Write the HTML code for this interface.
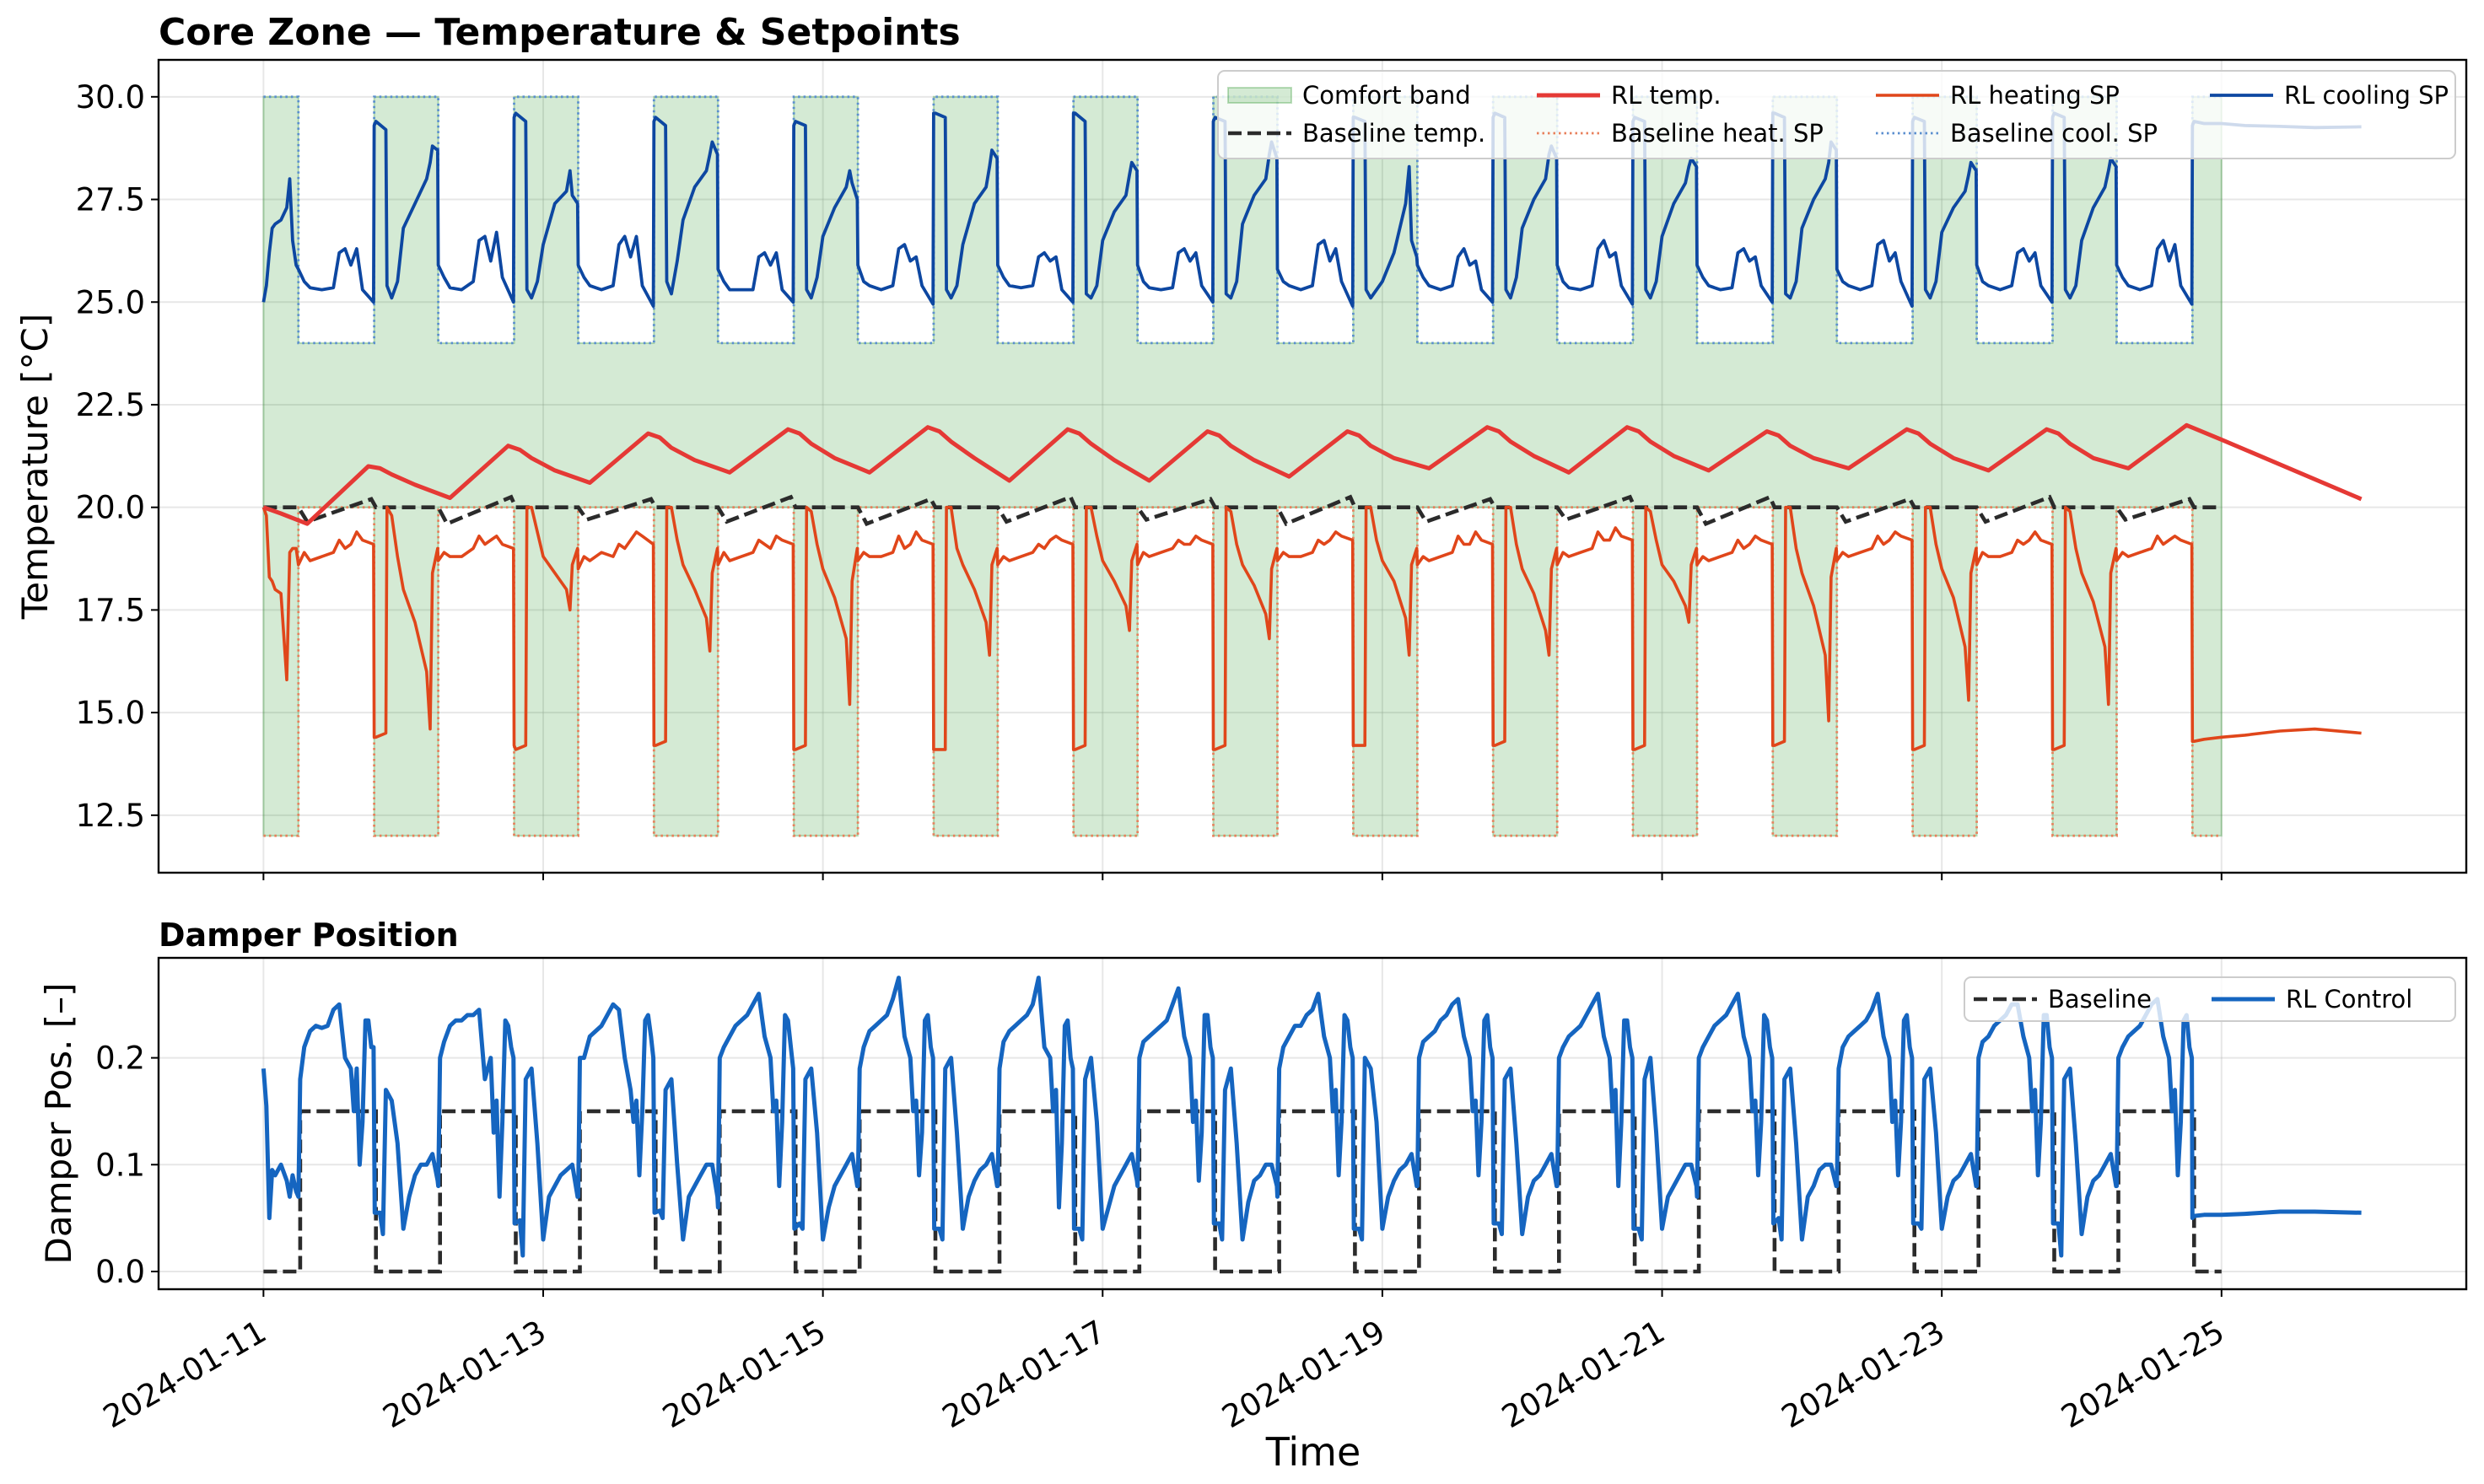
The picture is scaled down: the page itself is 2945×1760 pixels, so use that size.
<!DOCTYPE html>
<html><head><meta charset="utf-8"><style>
html,body{margin:0;padding:0;background:#fff;}
svg{display:block;font-family:"DejaVu Sans","Liberation Sans",sans-serif;}
</style></head>
<body>
<svg id="chart" width="2945" height="1760" viewBox="0 0 2945 1760" xmlns="http://www.w3.org/2000/svg">
<defs>
<clipPath id="clipTop"><rect x="188" y="71" width="2736" height="964"/></clipPath>
<clipPath id="clipBot"><rect x="188" y="1136" width="2736" height="393"/></clipPath>
</defs>
<rect x="0" y="0" width="2945" height="1760" fill="#fff"/>
<g id="gTop"></g>
<g id="gBot"></g>
</svg>
<script>
// ---------- data ----------
const xTickLabels = ["2024-01-11","2024-01-13","2024-01-15","2024-01-17","2024-01-19","2024-01-21","2024-01-23","2024-01-25"];
const xTickDays = [0,2,4,6,8,10,12,14];
const tempTicks = [12.5,15.0,17.5,20.0,22.5,25.0,27.5,30.0];
const damperTicks = [0.0,0.1,0.2];

const nDays = 14;
const occStartHour = 6, occEndHour = 19;
const occHeatSP = 20, occCoolSP = 24, unoccHeatSP = 12, unoccCoolSP = 30;
const baseDamperOcc = 0.15, baseDamperUnocc = 0.0, baseDamperLag = 0.3;

// RL setpoint cycles: offsets (hours after 06:00)
const spOffsets = [0,1,2,4,6,7,8,9,10,11,12.9,13,13.3,15,15.2,16,17,18,20,22,22.6,23,23.9];
const headHours = [0,0.5,1,1.5,2,3,4,4.5,5,5.6];
const headCool = [25.0,25.4,26.2,26.8,26.9,27.0,27.3,28.0,26.5,25.9];
const headHeat = [20.0,19.8,18.3,18.2,18.0,17.9,15.8,18.9,19.0,19.0];
const headDamp = [0.19,0.155,0.05,0.095,0.09,0.1,0.085,0.07,0.09,0.075];
const tailHours = [331,331.3,333,336,340,346,352,360];
const tailCool = [29.3,29.4,29.35,29.35,29.3,29.28,29.25,29.27];
const tailHeat = [14.3,14.3,14.35,14.4,14.45,14.55,14.6,14.5];
const tailDamp = [0.05,0.052,0.053,0.053,0.054,0.056,0.056,0.055];

const coolCycles = [
[25.8,25.5,25.35,25.3,25.35,26.2,26.3,25.9,26.3,25.3,25.0,29.3,29.4,29.2,25.4,25.1,25.5,26.8,27.4,28.0,28.4,28.8,28.7],
[25.9,25.6,25.35,25.3,25.5,26.5,26.6,26.0,26.7,25.6,25.0,29.5,29.6,29.4,25.3,25.1,25.5,26.4,27.4,27.7,28.2,27.6,27.4],
[25.9,25.6,25.4,25.3,25.4,26.4,26.6,26.1,26.6,25.4,24.9,29.4,29.5,29.3,25.5,25.2,26.0,27.0,27.8,28.2,28.6,28.9,28.6],
[25.8,25.5,25.3,25.3,25.3,26.1,26.2,25.9,26.2,25.3,25.0,29.3,29.4,29.3,25.3,25.1,25.6,26.6,27.3,27.8,28.2,27.9,27.5],
[25.9,25.5,25.4,25.3,25.4,26.3,26.4,26.0,26.1,25.4,24.95,29.6,29.6,29.5,25.3,25.1,25.4,26.4,27.4,27.8,28.3,28.7,28.5],
[25.9,25.6,25.4,25.35,25.4,26.1,26.2,26.0,26.1,25.3,25.0,29.6,29.6,29.4,25.2,25.1,25.4,26.5,27.2,27.6,28.1,28.4,28.2],
[25.9,25.5,25.35,25.3,25.35,26.2,26.3,26.0,26.2,25.4,25.0,29.4,29.5,29.4,25.2,25.1,25.5,26.9,27.6,28.0,28.6,28.9,28.5],
[25.8,25.5,25.4,25.3,25.4,26.4,26.5,26.0,26.3,25.5,24.9,29.5,29.5,29.4,25.3,25.1,25.3,25.5,26.2,27.4,28.3,26.5,26.1],
[25.9,25.6,25.4,25.3,25.4,26.1,26.3,25.9,26.0,25.3,25.0,29.5,29.6,29.5,25.3,25.1,25.6,26.8,27.5,28.0,28.6,28.8,28.5],
[25.9,25.5,25.35,25.3,25.4,26.3,26.5,26.1,26.2,25.4,24.95,29.4,29.5,29.4,25.3,25.1,25.5,26.6,27.4,27.9,28.3,28.5,28.3],
[25.9,25.6,25.4,25.3,25.35,26.2,26.3,26.0,26.1,25.4,25.0,29.6,29.6,29.5,25.2,25.1,25.5,26.8,27.5,28.0,28.4,28.9,28.7],
[25.8,25.5,25.4,25.3,25.4,26.4,26.5,26.0,26.2,25.5,24.9,29.4,29.5,29.4,25.3,25.1,25.5,26.7,27.3,27.7,28.1,28.4,28.2],
[25.9,25.5,25.4,25.3,25.4,26.2,26.3,26.0,26.2,25.4,25.0,29.5,29.6,29.5,25.3,25.1,25.4,26.5,27.3,27.8,28.2,28.5,28.3],
[25.9,25.6,25.4,25.3,25.4,26.3,26.5,26.0,26.4,25.4,24.95]
];
const heatCycles = [
[18.6,18.9,18.7,18.8,18.9,19.2,19.0,19.1,19.4,19.2,19.1,14.4,14.4,14.5,20.0,19.8,18.8,18.0,17.2,16.0,14.6,18.4,19.0],
[18.7,18.9,18.8,18.8,19.0,19.3,19.1,19.2,19.3,19.1,19.0,14.2,14.1,14.2,20.0,20.0,19.4,18.8,18.4,18.0,17.5,18.6,19.0],
[18.5,18.8,18.7,18.9,18.8,19.1,19.0,19.2,19.4,19.3,19.1,14.2,14.2,14.3,20.0,20.0,19.2,18.6,18.0,17.3,16.5,18.4,19.0],
[18.6,18.9,18.7,18.8,18.9,19.2,19.1,19.0,19.3,19.2,19.1,14.1,14.1,14.2,20.0,19.9,19.1,18.5,17.8,16.8,15.2,18.2,19.0],
[18.7,18.9,18.8,18.8,18.9,19.3,19.0,19.1,19.4,19.2,19.1,14.1,14.1,14.1,20.0,20.0,19.0,18.6,18.0,17.2,16.4,18.6,19.0],
[18.6,18.8,18.7,18.8,18.9,19.1,19.0,19.2,19.3,19.2,19.1,14.1,14.1,14.2,20.0,20.0,19.3,18.7,18.2,17.6,17.0,18.7,19.1],
[18.6,18.9,18.8,18.9,19.0,19.2,19.1,19.1,19.3,19.2,19.1,14.1,14.1,14.2,20.0,19.9,19.1,18.6,18.1,17.4,16.8,18.5,19.0],
[18.7,18.9,18.8,18.8,18.9,19.2,19.1,19.2,19.4,19.3,19.2,14.2,14.2,14.2,20.0,20.0,19.2,18.7,18.2,17.3,16.4,18.6,19.0],
[18.6,18.8,18.7,18.8,18.9,19.3,19.1,19.1,19.4,19.2,19.1,14.2,14.2,14.3,20.0,20.0,19.1,18.5,17.9,17.0,16.4,18.5,19.0],
[18.6,18.9,18.8,18.9,19.0,19.4,19.2,19.2,19.5,19.3,19.2,14.1,14.1,14.2,20.0,19.9,19.2,18.6,18.2,17.6,17.2,18.6,19.0],
[18.6,18.8,18.7,18.8,18.9,19.2,19.0,19.1,19.3,19.2,19.1,14.2,14.2,14.3,20.0,20.0,19.0,18.4,17.6,16.4,14.8,18.3,19.0],
[18.7,18.9,18.8,18.9,19.0,19.3,19.1,19.2,19.4,19.3,19.2,14.1,14.1,14.2,20.0,20.0,19.1,18.5,17.8,16.6,15.3,18.4,19.0],
[18.6,18.9,18.8,18.8,18.9,19.2,19.1,19.2,19.4,19.2,19.1,14.1,14.1,14.2,20.0,19.9,19.0,18.4,17.7,16.6,15.2,18.4,19.0],
[18.7,18.9,18.8,18.9,19.0,19.3,19.1,19.2,19.3,19.2,19.1]
];

// RL damper cycles: offsets (hours after 06:00)
const dmOffsets = [0,0.3,1,2,3,4,5,6,7,8,9,9.5,10,10.5,11,11.5,12,12.5,12.9,13.1,14,14.5,15,16,17,18,19,20,21,22,23,23.9];
const damperCycles = [
[0.07,0.18,0.21,0.225,0.23,0.228,0.23,0.245,0.25,0.2,0.19,0.15,0.19,0.10,0.14,0.235,0.235,0.21,0.21,0.055,0.055,0.035,0.17,0.16,0.12,0.04,0.07,0.09,0.1,0.1,0.11,0.085],
[0.08,0.2,0.215,0.23,0.235,0.235,0.24,0.24,0.245,0.18,0.2,0.13,0.16,0.07,0.14,0.235,0.23,0.21,0.2,0.045,0.048,0.015,0.18,0.19,0.12,0.03,0.07,0.08,0.09,0.095,0.1,0.07],
[0.07,0.2,0.2,0.22,0.225,0.23,0.24,0.25,0.245,0.2,0.17,0.14,0.16,0.09,0.15,0.235,0.24,0.22,0.2,0.055,0.057,0.05,0.17,0.18,0.1,0.03,0.07,0.08,0.09,0.1,0.1,0.07],
[0.06,0.2,0.21,0.22,0.23,0.235,0.24,0.25,0.26,0.22,0.2,0.15,0.16,0.08,0.14,0.24,0.235,0.21,0.19,0.04,0.045,0.04,0.18,0.19,0.13,0.03,0.06,0.08,0.09,0.1,0.11,0.08],
[0.08,0.19,0.21,0.225,0.23,0.235,0.24,0.255,0.275,0.22,0.2,0.15,0.16,0.09,0.13,0.235,0.24,0.21,0.2,0.04,0.04,0.03,0.19,0.2,0.13,0.04,0.07,0.085,0.095,0.1,0.11,0.08],
[0.08,0.19,0.215,0.225,0.23,0.235,0.24,0.25,0.275,0.21,0.2,0.15,0.17,0.06,0.12,0.23,0.235,0.2,0.19,0.04,0.04,0.03,0.18,0.2,0.14,0.04,0.06,0.08,0.09,0.1,0.11,0.085],
[0.08,0.2,0.215,0.22,0.225,0.23,0.235,0.25,0.265,0.22,0.2,0.14,0.16,0.085,0.13,0.24,0.24,0.21,0.2,0.045,0.045,0.03,0.17,0.19,0.12,0.03,0.065,0.085,0.09,0.1,0.1,0.08],
[0.07,0.19,0.21,0.22,0.23,0.23,0.24,0.245,0.26,0.22,0.2,0.15,0.17,0.09,0.14,0.24,0.235,0.21,0.2,0.04,0.04,0.03,0.2,0.19,0.14,0.04,0.07,0.085,0.095,0.1,0.11,0.08],
[0.08,0.2,0.215,0.22,0.225,0.235,0.24,0.25,0.255,0.22,0.2,0.15,0.16,0.09,0.14,0.235,0.24,0.21,0.2,0.045,0.045,0.035,0.18,0.19,0.12,0.035,0.07,0.085,0.09,0.1,0.11,0.08],
[0.08,0.2,0.21,0.22,0.225,0.23,0.24,0.25,0.26,0.22,0.2,0.15,0.17,0.08,0.14,0.235,0.235,0.21,0.2,0.04,0.04,0.03,0.18,0.2,0.13,0.04,0.07,0.08,0.09,0.1,0.1,0.08],
[0.07,0.2,0.21,0.22,0.23,0.235,0.24,0.25,0.26,0.22,0.2,0.15,0.16,0.09,0.14,0.24,0.235,0.21,0.2,0.045,0.05,0.03,0.18,0.19,0.12,0.03,0.07,0.08,0.095,0.1,0.1,0.08],
[0.08,0.19,0.21,0.22,0.225,0.23,0.235,0.245,0.26,0.22,0.2,0.14,0.16,0.09,0.14,0.235,0.24,0.21,0.2,0.045,0.045,0.04,0.18,0.19,0.13,0.04,0.07,0.085,0.09,0.1,0.11,0.08],
[0.08,0.2,0.215,0.22,0.23,0.235,0.24,0.25,0.25,0.22,0.2,0.15,0.17,0.09,0.14,0.24,0.24,0.21,0.2,0.045,0.045,0.015,0.18,0.19,0.12,0.035,0.07,0.085,0.09,0.1,0.11,0.08],
[0.08,0.2,0.21,0.22,0.225,0.23,0.24,0.25,0.255,0.22,0.2,0.15,0.17,0.09,0.14,0.235,0.24,0.21,0.2]
];

// RL zone temperature (hour, value)
const tempHours = [0,3,7.5,12,18,20,22,26,32,42,44,46,50,56,66,68,70,74,80,90,92,94,98,104,114,116,118,122,128,138,140,142,146,152,162,164,166,170,176,186,188,190,194,200,210,212,214,218,224,234,236,238,242,248,258,260,262,266,272,282,284,286,290,296,306,308,310,314,320,330,336,360];
const tempVals = [20.0,19.85,19.6,20.2,21.0,20.95,20.8,20.55,20.23,21.5,21.4,21.2,20.9,20.6,21.8,21.7,21.45,21.15,20.85,21.9,21.8,21.55,21.2,20.85,21.95,21.85,21.6,21.2,20.65,21.9,21.8,21.55,21.15,20.65,21.85,21.75,21.5,21.15,20.75,21.85,21.75,21.5,21.2,20.95,21.95,21.85,21.6,21.25,20.85,21.95,21.85,21.6,21.25,20.9,21.85,21.75,21.5,21.2,20.95,21.9,21.8,21.55,21.2,20.9,21.9,21.8,21.55,21.2,20.95,22.0,21.65,20.2];

// Baseline temperature: per-day dip (07:30) and peak (18:30)
const baseTempDip = [19.65,19.6,19.7,19.65,19.6,19.65,19.7,19.6,19.65,19.7,19.6,19.65,19.65,19.7];
const baseTempPeak = [20.2,20.25,20.2,20.25,20.2,20.25,20.2,20.25,20.2,20.25,20.25,20.2,20.25,20.2];
const baseTempRest = 20.0;

// ---------- axes ----------
const AX = {l:188, r:2924};
const TOP = {t:71, b:1035, min:11.1, max:30.9};
const BOT = {t:1136, b:1529, min:-0.0166, max:0.2936};
const XMIN = -0.75, XMAX = 15.75;
function xs(h){ return AX.l + (h/24 - XMIN)/(XMAX - XMIN)*(AX.r - AX.l); }
function yT(v){ return TOP.b - (v - TOP.min)/(TOP.max - TOP.min)*(TOP.b - TOP.t); }
function yD(v){ return BOT.b - (v - BOT.min)/(BOT.max - BOT.min)*(BOT.b - BOT.t); }

const NS = "http://www.w3.org/2000/svg";
function mk(tag, attrs, parent){ const e = document.createElementNS(NS, tag); for (const k in attrs) e.setAttribute(k, attrs[k]); parent.appendChild(e); return e; }
function pathD(pts, yf){ return pts.map((p,i)=>(i?"L":"M")+xs(p[0]).toFixed(1)+","+yf(p[1]).toFixed(1)).join(""); }

function cycleSeries(hh, hv, cycles, offsets, th, tv){
  const pts = [];
  hh.forEach((h,i)=>pts.push([h, hv[i]]));
  cycles.forEach((c,ci)=>{ c.forEach((v,i)=>pts.push([ci*24+occStartHour+offsets[i], v])); });
  th.forEach((h,i)=>pts.push([h, tv[i]]));
  return pts;
}
function stepSeries(occV, unoccV, lag){
  const pts = [[0, unoccV]];
  for (let d=0; d<nDays; d++){
    const s = d*24+occStartHour+lag, e = d*24+occEndHour+lag;
    pts.push([s, unoccV],[s, occV],[e, occV],[e, unoccV]);
  }
  pts.push([nDays*24, unoccV]);
  return pts;
}

const gTop = document.getElementById('gTop');
const gBot = document.getElementById('gBot');
const TICKFS = 37;

function grid(g, yTicks, yf, top, bot){
  xTickDays.forEach(d=>{
    const l = mk('line',{x1:xs(d*24),x2:xs(d*24),y1:top,y2:bot,stroke:'#b0b0b0','stroke-opacity':0.3,'stroke-width':2},g);
    
    
  });
  yTicks.forEach(v=>{
    const l = mk('line',{x1:AX.l,x2:AX.r,y1:yf(v),y2:yf(v),stroke:'#b0b0b0','stroke-opacity':0.3,'stroke-width':2},g);
    
    
  });
}
function axesFrame(g, top, bot, yTicks, yf, fmt, showXLabels){
  mk('rect',{x:AX.l,y:top,width:AX.r-AX.l,height:bot-top,fill:'none',stroke:'#000','stroke-width':2.4},g);
  yTicks.forEach(v=>{
    mk('line',{x1:AX.l-9,x2:AX.l,y1:yf(v),y2:yf(v),stroke:'#000','stroke-width':2},g);
    const t = mk('text',{x:AX.l-16,y:yf(v)+13,'text-anchor':'end','font-size':TICKFS,fill:'#000'},g);
    t.textContent = fmt(v);
    
    
  });
  xTickDays.forEach((d,i)=>{
    mk('line',{x1:xs(d*24),x2:xs(d*24),y1:bot,y2:bot+9,stroke:'#000','stroke-width':2},g);
    if (showXLabels){
      const t = mk('text',{transform:`translate(${xs(d*24)+6},${bot+58}) rotate(-30)`,'text-anchor':'end','font-size':TICKFS,fill:'#000'},g);
      t.textContent = xTickLabels[i];
      
      
    }
  });
}

// ---------- top panel ----------
grid(gTop, tempTicks, yT, TOP.t, TOP.b);
const plotT = mk('g',{'clip-path':'url(#clipTop)'},gTop);



const heatStep = stepSeries(occHeatSP, unoccHeatSP, 0);
const coolStep = stepSeries(occCoolSP, unoccCoolSP, 0);
const bandD = pathD(coolStep, yT) + pathD(heatStep.slice().reverse(), yT).replace(/^M/,'L') + 'Z';
const band = mk('path',{d:bandD,fill:'rgb(0,128,0)','fill-opacity':0.17,stroke:'rgb(0,128,0)','stroke-opacity':0.25,'stroke-width':2},plotT);



const bHeat = mk('path',{d:pathD(heatStep,yT),fill:'none',stroke:'#e8805c','stroke-width':2.8,'stroke-dasharray':'2.5,4'},plotT);


const bCool = mk('path',{d:pathD(coolStep,yT),fill:'none',stroke:'#5b8fcf','stroke-width':2.8,'stroke-dasharray':'2.5,4'},plotT);



const btPts = [[0, baseTempRest]];
for (let d=0; d<nDays; d++){
  btPts.push([d*24+6, baseTempRest],[d*24+7.5, baseTempDip[d]],[d*24+18.5, baseTempPeak[d]],[d*24+19.3, baseTempRest]);
}
btPts.push([nDays*24, baseTempRest]);
const bTemp = mk('path',{d:pathD(btPts,yT),fill:'none',stroke:'#2b2b2b','stroke-width':4.6,'stroke-dasharray':'16,7'},plotT);



const heatPts = cycleSeries(headHours, headHeat, heatCycles, spOffsets, tailHours, tailHeat);
const rlHeat = mk('path',{d:pathD(heatPts,yT),fill:'none',stroke:'#e0461a','stroke-width':3.6,'stroke-linejoin':'round'},plotT);



const coolPts = cycleSeries(headHours, headCool, coolCycles, spOffsets, tailHours, tailCool);
const rlCool = mk('path',{d:pathD(coolPts,yT),fill:'none',stroke:'#0d47a1','stroke-width':3.8,'stroke-linejoin':'round'},plotT);



const tPts = tempHours.map((h,i)=>[h, tempVals[i]]);
const rlTemp = mk('path',{d:pathD(tPts,yT),fill:'none',stroke:'#e53935','stroke-width':5,'stroke-linejoin':'round'},plotT);



axesFrame(gTop, TOP.t, TOP.b, tempTicks, yT, v=>v.toFixed(1), false);

const title = mk('text',{x:188,y:53,'font-size':44,'font-weight':'bold',fill:'#000'},gTop);
title.textContent = 'Core Zone — Temperature & Setpoints';


const yl = mk('text',{transform:`translate(56,${(TOP.t+TOP.b)/2}) rotate(-90)`,'text-anchor':'middle','font-size':42,fill:'#000'},gTop);
yl.textContent = 'Temperature [°C]';



// top legend
const lgT = mk('g',{},gTop);


mk('rect',{x:1444,y:84,width:1467,height:104,rx:8,fill:'#fff','fill-opacity':0.8,stroke:'#cccccc','stroke-width':2},lgT);
function legLine(g, x, y, attrs, label, name){
  const e = mk('g',{},g);
  
  
  mk('line',Object.assign({x1:x,x2:x+75,y1:y,y2:y,fill:'none'},attrs),e);
  const t = mk('text',{x:x+88,y:y+10,'font-size':29,fill:'#000'},e);
  t.textContent = label;
}
{
  const e = mk('g',{},lgT);
  
  
  mk('rect',{x:1456,y:104,width:75,height:18,fill:'rgb(0,128,0)','fill-opacity':0.17,stroke:'rgb(0,128,0)','stroke-opacity':0.25,'stroke-width':2},e);
  const t = mk('text',{x:1544,y:123,'font-size':29,fill:'#000'},e);
  t.textContent = 'Comfort band';
}
legLine(lgT,1456,158,{stroke:'#2b2b2b','stroke-width':4.6,'stroke-dasharray':'16,7'},'Baseline temp.','legend-baseline-temp');
legLine(lgT,1822,113,{stroke:'#e53935','stroke-width':5},'RL temp.','legend-rl-temp');
legLine(lgT,1822,158,{stroke:'#e8805c','stroke-width':2.8,'stroke-dasharray':'2.5,4'},'Baseline heat. SP','legend-baseline-heat-sp');
legLine(lgT,2224,113,{stroke:'#e0461a','stroke-width':3.6},'RL heating SP','legend-rl-heating-sp');
legLine(lgT,2224,158,{stroke:'#5b8fcf','stroke-width':2.8,'stroke-dasharray':'2.5,4'},'Baseline cool. SP','legend-baseline-cool-sp');
legLine(lgT,2620,113,{stroke:'#0d47a1','stroke-width':3.8},'RL cooling SP','legend-rl-cooling-sp');

// ---------- bottom panel ----------
grid(gBot, damperTicks, yD, BOT.t, BOT.b);
const plotB = mk('g',{'clip-path':'url(#clipBot)'},gBot);



const bdPts = stepSeries(baseDamperOcc, baseDamperUnocc, baseDamperLag);
const bDamp = mk('path',{d:pathD(bdPts,yD),fill:'none',stroke:'#2b2b2b','stroke-width':4.6,'stroke-dasharray':'16,7'},plotB);



const dPts = cycleSeries(headHours, headDamp, damperCycles, dmOffsets, tailHours, tailDamp);
const rlDamp = mk('path',{d:pathD(dPts,yD),fill:'none',stroke:'#1565c0','stroke-width':5,'stroke-linejoin':'round'},plotB);



axesFrame(gBot, BOT.t, BOT.b, damperTicks, yD, v=>v.toFixed(1), true);

const t2 = mk('text',{x:188,y:1122,'font-size':38,'font-weight':'bold',fill:'#000'},gBot);
t2.textContent = 'Damper Position';


const yl2 = mk('text',{transform:`translate(84,${(BOT.t+BOT.b)/2}) rotate(-90)`,'text-anchor':'middle','font-size':42,fill:'#000'},gBot);
yl2.textContent = 'Damper Pos. [–]';


const xl = mk('text',{x:1557,y:1738,'text-anchor':'middle','font-size':46,fill:'#000'},gBot);
xl.textContent = 'Time';



const lgB = mk('g',{},gBot);


mk('rect',{x:2329,y:1159,width:582,height:52,rx:8,fill:'#fff','fill-opacity':0.8,stroke:'#cccccc','stroke-width':2},lgB);
legLine(lgB,2340,1185,{stroke:'#2b2b2b','stroke-width':4.6,'stroke-dasharray':'16,7'},'Baseline','legend-baseline-damper');
legLine(lgB,2622,1185,{stroke:'#1565c0','stroke-width':5},'RL Control','legend-rl-damper');
</script>
</body></html>
